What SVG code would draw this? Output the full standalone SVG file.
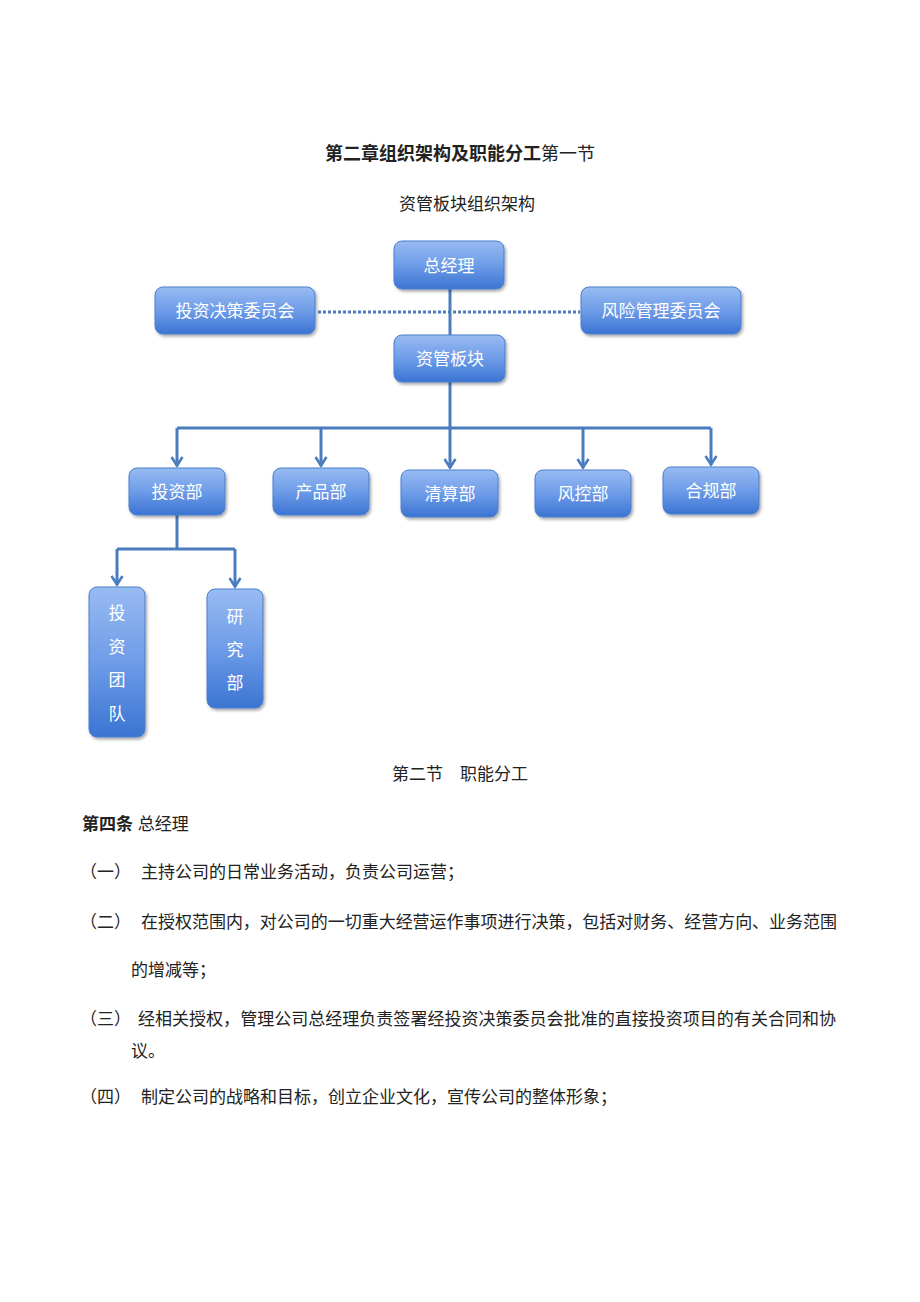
<svg xmlns="http://www.w3.org/2000/svg" width="920" height="1302" viewBox="0 0 920 1302">
<style>
.t{font-family:"Liberation Sans","Noto Sans CJK SC",sans-serif;fill:#222;font-size:17px}
.b{font-weight:bold}
.n{font-family:"Liberation Sans","Noto Sans CJK SC",sans-serif;fill:#fff;font-size:17px;text-anchor:middle}
.box{fill:url(#g);stroke:#4a7fcf;stroke-width:1;filter:url(#sh)}
.c{fill:none;stroke:#4a7dc0;stroke-width:3}
</style>
<defs>
<linearGradient id="g" x1="0" y1="0" x2="0" y2="1">
<stop offset="0" stop-color="#98bbf2"/>
<stop offset="0.5" stop-color="#6e9ce8"/>
<stop offset="1" stop-color="#3b74d2"/>
</linearGradient>
<filter id="sh" x="-20%" y="-20%" width="140%" height="150%">
<feDropShadow dx="1.5" dy="2" stdDeviation="1.5" flood-color="#000" flood-opacity="0.35"/>
</filter>
<marker id="a" viewBox="0 0 14 14" refX="12" refY="7" markerWidth="14" markerHeight="14" markerUnits="userSpaceOnUse" orient="auto">
<path d="M3,1.5 L11.5,7 L3,12.5" fill="none" stroke="#4a7dc0" stroke-width="2.6" stroke-linejoin="miter"/>
</marker>
</defs>
<rect width="920" height="1302" fill="#fff"/>
<text class="t" x="460" y="160" text-anchor="middle" style="font-size:18px"><tspan class="b">第二章组织架构及职能分工</tspan>第一节</text>
<text class="t" x="467" y="210" text-anchor="middle">资管板块组织架构</text>
<g id="connectors">
<line x1="318" y1="312" x2="580" y2="312" stroke="#4a7dc0" stroke-width="3" stroke-dasharray="3,2"/>
<path class="c" d="M450,289 V336"/>
<path class="c" d="M450,382 V428"/>
<path class="c" d="M177,428 H711"/>
<path class="c" d="M177,428 V466" marker-end="url(#a)"/>
<path class="c" d="M321,428 V466" marker-end="url(#a)"/>
<path class="c" d="M450,428 V468" marker-end="url(#a)"/>
<path class="c" d="M583,428 V468" marker-end="url(#a)"/>
<path class="c" d="M711,428 V465" marker-end="url(#a)"/>
<path class="c" d="M177,515 V549"/>
<path class="c" d="M117,549 H235"/>
<path class="c" d="M117,549 V585" marker-end="url(#a)"/>
<path class="c" d="M235,549 V587" marker-end="url(#a)"/>
</g>
<g id="n-zjl"><rect class="box" x="394" y="241" width="110" height="48" rx="8"/><text class="n" x="449" y="272">总经理</text></g>
<g id="n-tzjc"><rect class="box" x="155" y="287" width="160" height="47" rx="8"/><text class="n" x="235" y="317">投资决策委员会</text></g>
<g id="n-fxgl"><rect class="box" x="581" y="287" width="160" height="47" rx="8"/><text class="n" x="661" y="317">风险管理委员会</text></g>
<g id="n-zgbk"><rect class="box" x="394" y="335" width="111" height="47" rx="8"/><text class="n" x="450" y="365">资管板块</text></g>
<g id="n-tzb"><rect class="box" x="129" y="468" width="96" height="47" rx="8"/><text class="n" x="177" y="498">投资部</text></g>
<g id="n-cpb"><rect class="box" x="273" y="468" width="96" height="47" rx="8"/><text class="n" x="321" y="498">产品部</text></g>
<g id="n-qsb"><rect class="box" x="401" y="470" width="97" height="47" rx="8"/><text class="n" x="450" y="500">清算部</text></g>
<g id="n-fkb"><rect class="box" x="535" y="470" width="96" height="47" rx="8"/><text class="n" x="583" y="500">风控部</text></g>
<g id="n-hgb"><rect class="box" x="663" y="467" width="96" height="47" rx="8"/><text class="n" x="711" y="497">合规部</text></g>
<g id="n-tztd"><rect class="box" x="89" y="587" width="56" height="150" rx="8"/>
<text class="n" x="117" y="619">投</text><text class="n" x="117" y="653">资</text><text class="n" x="117" y="686">团</text><text class="n" x="117" y="720">队</text></g>
<g id="n-yjb"><rect class="box" x="207" y="589" width="56" height="119" rx="8"/>
<text class="n" x="235" y="623">研</text><text class="n" x="235" y="656">究</text><text class="n" x="235" y="689">部</text></g>
<text class="t" x="460" y="780" text-anchor="middle">第二节　职能分工</text>
<text class="t" x="82" y="830"><tspan class="b">第四条</tspan> 总经理</text>
<text class="t" x="80" y="878">（一）</text>
<text class="t" x="141" y="878">主持公司的日常业务活动，负责公司运营；</text>
<text class="t" x="80" y="928">（二）</text>
<text class="t" x="141" y="928" textLength="696" lengthAdjust="spacingAndGlyphs">在授权范围内，对公司的一切重大经营运作事项进行决策，包括对财务、经营方向、业务范围</text>
<text class="t" x="131" y="976">的增减等；</text>
<text class="t" x="80" y="1025">（三）</text>
<text class="t" x="138" y="1025" textLength="698" lengthAdjust="spacingAndGlyphs">经相关授权，管理公司总经理负责签署经投资决策委员会批准的直接投资项目的有关合同和协</text>
<text class="t" x="131" y="1057">议。</text>
<text class="t" x="80" y="1103">（四）</text>
<text class="t" x="141" y="1103">制定公司的战略和目标，创立企业文化，宣传公司的整体形象；</text>
</svg>
